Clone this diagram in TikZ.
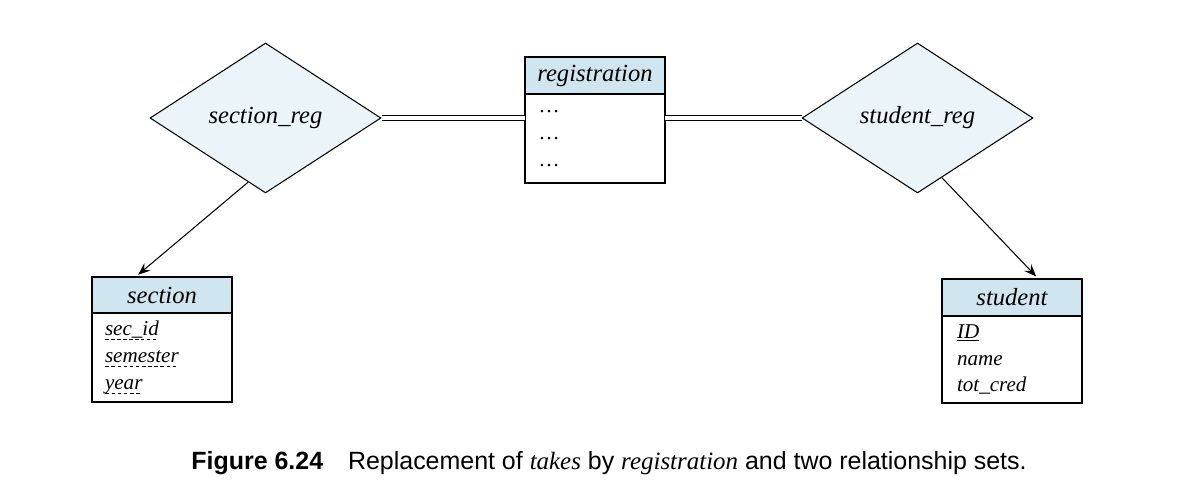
\documentclass[tikz,border=0pt]{standalone}
\usepackage{fontspec}
\setmainfont{Liberation Serif}
\setsansfont{Liberation Sans}
\usepackage{xcolor}
\usepackage{tikz}
\usetikzlibrary{
	arrows.meta,shapes,positioning,calc
}
\definecolor{headblue}{RGB}{207,230,240}
\definecolor{relblue}{RGB}{235,244,248}
% dashed underline for discriminator attributes
\newcommand\dashul[1]{\leavevmode\setbox0\hbox{#1}\rlap{\lower2.6pt\hbox to\wd0{\xleaders\hbox{\vrule width 2pt height 0.5pt depth 0pt\hskip 1.3pt}\hfill}}\box0}
\tikzset{
	rel/.style={diamond,draw,fill=relblue,line width=0.6pt,inner sep=0pt,
		minimum width=4.62cm,minimum height=3cm,
		font=\fontsize{14}{16}\selectfont\itshape},
	ehead/.style={draw,fill=headblue,line width=0.9pt,outer sep=0pt,inner sep=0pt,
		minimum width=2.8cm,font=\fontsize{14}{16}\selectfont\itshape},
	ebody/.style={draw,fill=white,line width=0.9pt,outer sep=0pt,inner sep=0pt,
		minimum width=2.8cm,text width=2.2cm,align=left,
		font=\fontsize{12}{15.3}\selectfont\itshape},
	dbl/.style={double,double distance=2.6pt,line width=0.6pt}
}

\begin{document}
\begin{tikzpicture}[x=0.02cm,y=-0.02cm]
	\useasboundingbox (0,0) rectangle (1182,496);
	% nodes
	\node[rel] (secreg) at (265.5,118) {section\_reg};
	\node[rel] (stureg) at (917.5,118) {student\_reg};
	\node[ehead,minimum height=0.74cm] (reghead) at (595,75.5) {registration};
	\node[ebody,minimum height=1.78cm,below=0pt of reghead] (regbody) {\ldots\\ \ldots\\ \ldots};
	\node[ehead,minimum height=0.72cm] (sechead) at (162,295) {section};
	\node[ebody,minimum height=1.78cm,text width=2.28cm,below=0pt of sechead] (secbody)
		{\dashul{sec\_id}\\ \dashul{semester}\\ \dashul{year}};
	\node[ehead,minimum height=0.74cm] (stuhead) at (1012,297.5) {student};
	\node[ebody,minimum height=1.74cm,below=0pt of stuhead] (stubody)
		{\underline{ID}\\ name\\ tot\_cred};
	%
	% double lines
	\draw[dbl] (secreg.east) -- (secreg.east -| regbody.west);
	\draw[dbl] (stureg.west) -- (stureg.west -| regbody.east);
	% arrows
	\path[->,>={Stealth[length=7pt,width=5.5pt,inset=2.5pt]},line width=0.6pt,shorten >=2pt]
	($(secreg.west)!0.85!(secreg.south)$) edge ($(sechead.north west)!0.31!(sechead.north east)$)
	($(stureg.south)!0.21!(stureg.east)$) edge ($(stuhead.north west)!0.69!(stuhead.north east)$);
	%
	\node[font=\sffamily\fontsize{14.2}{16}\selectfont] (cap) at (609,463)
		{\textbf{Figure 6.24}\quad Replacement of {\rmfamily\itshape takes} by {\rmfamily\itshape registration} and two relationship sets.};
\end{tikzpicture}
\end{document}
